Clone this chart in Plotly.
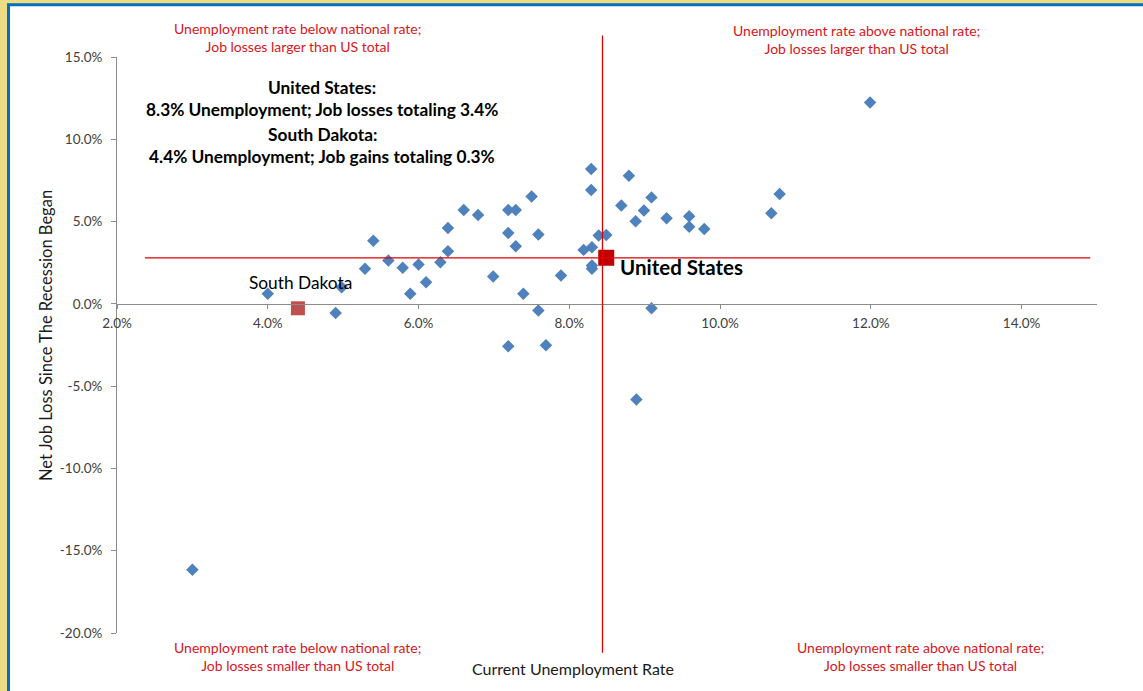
import plotly.graph_objects as go

# ---------------- data ----------------
state_unemployment = [
    4.00, 4.98, 4.90, 5.29, 5.40, 5.60, 5.79, 5.89, 6.00, 6.10,
    6.29, 6.39, 6.39, 6.60, 6.79, 6.99, 7.19, 7.29, 7.19, 7.29,
    7.50, 7.59, 7.39, 7.59, 7.89, 8.19, 8.30, 8.30, 8.30, 8.29,
    8.29, 8.39, 8.49, 8.69, 8.79, 8.88, 8.99, 9.09, 9.09, 9.29,
    9.59, 9.59, 9.79, 10.68, 10.79, 7.19, 7.69, 11.99, 8.89, 3.00,
]
state_job_loss = [
    0.61, 1.01, -0.55, 2.13, 3.83, 2.63, 2.19, 0.61, 2.39, 1.31,
    2.53, 3.20, 4.61, 5.71, 5.40, 1.66, 5.71, 5.71, 4.31, 3.50,
    6.53, 4.21, 0.61, -0.41, 1.72, 3.28, 3.44, 2.33, 2.13, 8.20,
    6.92, 4.15, 4.19, 5.97, 7.79, 5.02, 5.67, 6.47, -0.27, 5.20,
    5.32, 4.69, 4.55, 5.50, 6.68, -2.57, -2.51, 12.24, -5.81, -16.15,
]
us_unemployment = [8.49]
us_job_loss = [2.80]
sd_unemployment = [4.40]
sd_job_loss = [-0.27]

# reference lines (national benchmark)
ref_x = 8.44
ref_y = 2.80
hline_x_span = [2.37, 14.91]
vline_y_span = [-21.2, 16.3]

x_ticks = [2, 4, 6, 8, 10, 12, 14]
x_tick_labels = ["2.0%", "4.0%", "6.0%", "8.0%", "10.0%", "12.0%", "14.0%"]
y_ticks = [15, 10, 5, 0, -5, -10, -15, -20]
y_tick_labels = ["15.0%", "10.0%", "5.0%", "0.0%", "-5.0%", "-10.0%", "-15.0%", "-20.0%"]

x_range = [2, 15]
y_range = [-20, 15]

# ---------------- layout geometry ----------------
W, H = 1143, 691
ML, MR, MT, MB = 117, 46, 57, 58
PW = W - ML - MR
PH = H - MT - MB

FONT = "Lato"
RED_TXT = "#D8151B"


def px_x(px):
    return (px - ML) / PW


def px_y(py):
    return (H - MB - py) / PH


def data_y_to_paper(v):
    return (v - y_range[0]) / (y_range[1] - y_range[0])


fig = go.Figure()

fig.add_trace(go.Scatter(
    x=state_unemployment, y=state_job_loss, mode="markers",
    marker=dict(symbol="diamond", size=9.6, color="#4F81BD", line=dict(width=0)),
    showlegend=False, cliponaxis=False,
))
fig.add_trace(go.Scatter(
    x=sd_unemployment, y=sd_job_loss, mode="markers",
    marker=dict(symbol="square", size=14, color="#C0504D", line=dict(width=0)),
    showlegend=False, cliponaxis=False,
))
fig.add_trace(go.Scatter(
    x=us_unemployment, y=us_job_loss, mode="markers",
    marker=dict(symbol="square", size=16, color="#C00000", line=dict(width=0)),
    showlegend=False, cliponaxis=False,
))

shapes = [
    # outer frame: white panel with blue border on yellow background
    dict(type="rect", xref="paper", yref="paper", layer="below",
         x0=px_x(8.5), x1=px_x(W + 20), y0=px_y(H + 20), y1=px_y(4.8),
         line=dict(color="#0070C0", width=3), fillcolor="white"),
    # horizontal benchmark line
    dict(type="line", xref="x", yref="y", x0=hline_x_span[0], x1=hline_x_span[1],
         y0=ref_y, y1=ref_y, line=dict(color="#E00000", width=1.3), layer="above"),
    # vertical benchmark line
    dict(type="line", xref="x", yref="paper", x0=ref_x, x1=ref_x,
         y0=data_y_to_paper(vline_y_span[0]), y1=data_y_to_paper(vline_y_span[1]),
         line=dict(color="#E00000", width=1.3), layer="above"),
]

ann = []


def add_text(text, x, y, size, color="black", bold=False, xanchor="center", yanchor="middle", angle=0):
    t = f"<b>{text}</b>" if bold else text
    ann.append(dict(text=t, x=x, y=y, xref="paper", yref="paper", showarrow=False,
                    xanchor=xanchor, yanchor=yanchor, textangle=angle,
                    font=dict(family=FONT, size=size, color=color)))


RS = 14
add_text("Unemployment rate below national rate;<br>Job losses larger than US total",
         px_x(297), px_y(38), RS, RED_TXT)
add_text("Unemployment rate above national rate;<br>Job losses larger than US total",
         px_x(856), px_y(39.5), RS, RED_TXT)
add_text("Unemployment rate below national rate;<br>Job losses smaller than US total",
         px_x(297), px_y(656.5), RS, RED_TXT)
add_text("Unemployment rate above national rate;<br>Job losses smaller than US total",
         px_x(920), px_y(656), RS, RED_TXT)

for txt, py in [("United States:", 88), ("8.3% Unemployment; Job losses totaling 3.4%", 110),
                ("South Dakota:", 134), ("4.4% Unemployment; Job gains totaling 0.3%", 156)]:
    add_text(txt, px_x(322), px_y(py), 17.3, "black", bold=True)

add_text("United States", px_x(618), px_y(267), 20.5, "black", bold=True, xanchor="left")
add_text("South Dakota", px_x(300), px_y(282), 17.3, "black")

add_text("Current Unemployment Rate", px_x(573), px_y(668), 16, "#1a1a1a")
add_text("Net Job Loss Since The Recession Began", px_x(46), px_y(336), 16.5, "#1a1a1a", angle=-90)

fig.update_layout(
    width=W, height=H,
    margin=dict(l=ML, r=MR, t=MT, b=MB, pad=0),
    paper_bgcolor="#EEDC85",
    plot_bgcolor="rgba(0,0,0,0)",
    shapes=shapes,
    annotations=ann,
    font=dict(family=FONT, size=13.5, color="#404040"),
    xaxis=dict(
        range=x_range, tickmode="array", tickvals=x_ticks, ticktext=x_tick_labels,
        showgrid=False, zeroline=False, showline=True, linecolor="#8C8C8C", linewidth=1,
        ticks="outside", ticklen=4, tickcolor="#8C8C8C", anchor="free",
        position=data_y_to_paper(0), tickfont=dict(size=13.5, color="#404040"),
        ticklabelstandoff=3,
    ),
    yaxis=dict(
        range=y_range, tickmode="array", tickvals=y_ticks, ticktext=y_tick_labels,
        showgrid=False, zeroline=False, showline=True, linecolor="#8C8C8C", linewidth=1,
        ticks="outside", ticklen=5, tickcolor="#8C8C8C",
        tickfont=dict(size=13.5, color="#404040"), ticklabelstandoff=6,
    ),
)

fig.write_html("out.html", config={"displayModeBar": False},
               post_script="document.body.style.margin='0';")
